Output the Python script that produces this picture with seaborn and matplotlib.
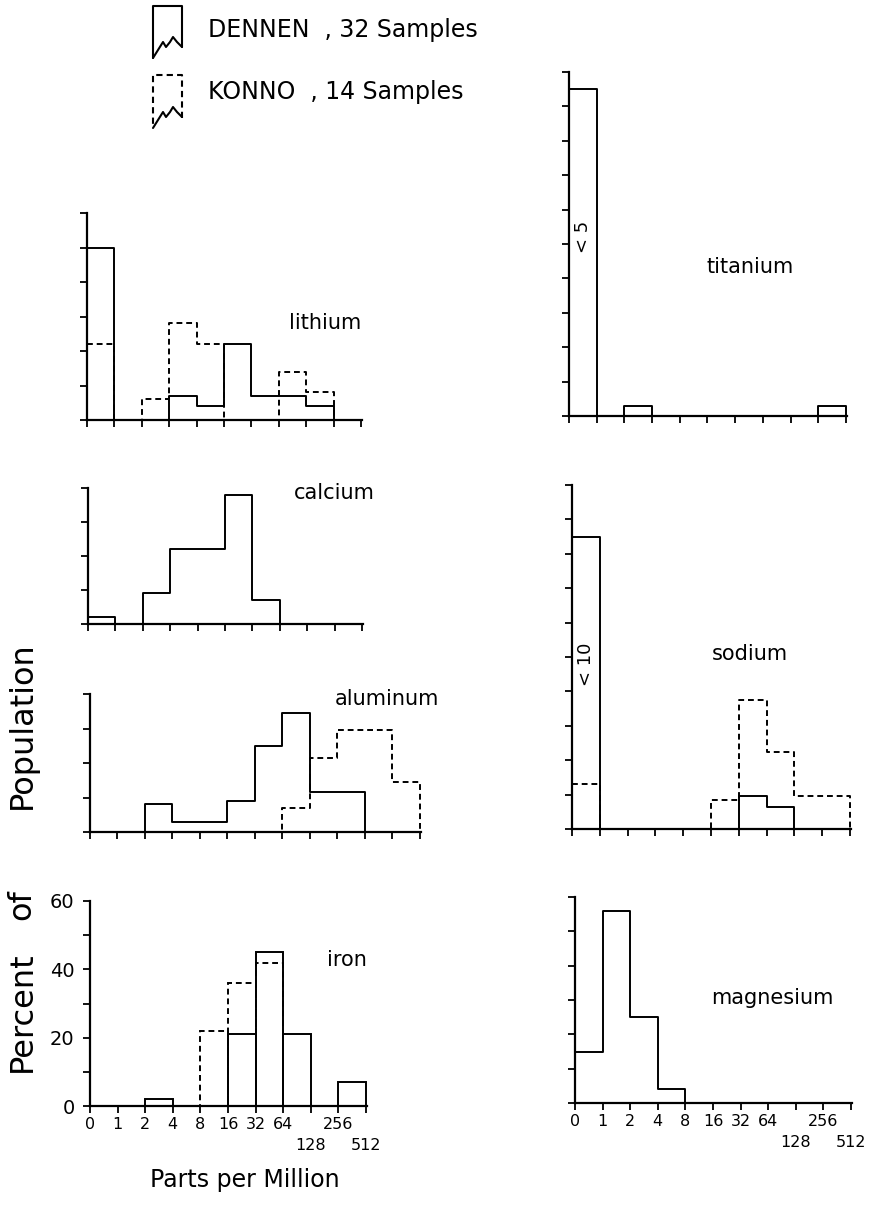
#!/usr/bin/env python3
"""
Trace element histograms, Dennen vs Konno samples (percent of population per ppm class).
"""

import numpy as np
import pandas as pd
import matplotlib
matplotlib.use('Agg')
import matplotlib.pyplot as plt
import seaborn as sns

W, H = 878, 1205  # output size in pixels (dpi 100)

# x classes, parts per million (bin edges); 128 and 512 sit on a lower row
BIN_LABELS = ['0', '1', '2', '4', '8', '16', '32', '64', '', '256', '']
LOW_ROW_POS = [8, 10]
LOW_ROW_LABELS = ['128', '512']

# percent of population per class
lithium_dennen = [50, 0, 0, 7, 4, 22, 7, 7, 4, 0]
lithium_konno = [22, 0, 6, 28, 22, 0, 0, 14, 8, 0]
calcium_dennen = [2, 0, 9, 22, 22, 38, 7, 0, 0, 0]
aluminum_dennen = [0, 0, 8, 3, 3, 9, 25, 34.5, 11.5, 11.5, 0, 0]
aluminum_konno = [0, 0, 0, 0, 0, 0, 0, 7, 21.5, 29.5, 29.5, 14.5]
iron_dennen = [0, 0, 2, 0, 0, 21, 45, 21, 0, 7]
iron_konno = [0, 0, 0, 0, 22, 36, 42, 0, 0, 0]
titanium_dennen = [95, 0, 3, 0, 0, 0, 0, 0, 0, 3]
sodium_dennen = [85, 0, 0, 0, 0, 0, 9.5, 6.5, 0, 0]
sodium_konno = [13, 0, 0, 0, 0, 8.5, 37.5, 22.5, 9.5, 9.5]
magnesium_dennen = [15, 56, 25, 4, 0, 0, 0, 0, 0, 0]

IRON_YTICKLABELS = ['0', '', '20', '', '40', '', '60']

LW = 1.4
DASH = (0, (3, 2))


def panel_axes(fig, x0, x1, yt, yb):
    """Axes placed by pixel box: x0..x1 across, yt (top of y range) .. yb (baseline)."""
    return fig.add_axes([x0 / W, 1 - yb / H, (x1 - x0) / W, (yb - yt) / H])


def draw_hist(ax, values, dashed=False, element='step'):
    # an empty class after the last one makes the step outline close at the right edge
    n = len(values)
    df = pd.DataFrame({'bin': np.arange(n + 1) + 0.5, 'pct': list(values) + [0]})
    sns.histplot(data=df, x='bin', weights='pct', bins=list(range(n + 2)),
                 element=element, fill=False, color='black', linewidth=LW,
                 linestyle=DASH if dashed else '-', ax=ax)


def style_panel(ax, nbins, ymax):
    ax.set_xlim(0, nbins + 0.04)
    ax.set_ylim(0, ymax)
    ax.set_xticks(np.arange(nbins + 1))
    ax.set_yticks(np.arange(0, ymax + 1, 10))
    ax.set_xticklabels([])
    ax.set_yticklabels([])
    ax.set_xlabel('')
    ax.set_ylabel('')
    ax.tick_params(direction='out', length=5, width=1.3, colors='black')
    sns.despine(ax=ax)
    for side in ('left', 'bottom'):
        ax.spines[side].set_linewidth(1.6)
        ax.spines[side].set_color('black')
    ax.set_facecolor('none')


def main():
    sns.set_style('ticks')
    plt.rcParams['font.family'] = ['DejaVu Sans']
    plt.rcParams['text.color'] = 'black'

    fig = plt.figure(figsize=(W / 100, H / 100), dpi=100)

    # panels: name, dennen, konno, ymax, pixel box, label position (data), element
    panels = [
        ('lithium', lithium_dennen, lithium_konno, 60, (87, 362, 213, 420), (8.7, 28), 'step'),
        ('calcium', calcium_dennen, None, 40, (88, 363, 488, 624), (9.0, 38.5), 'step'),
        ('aluminum', aluminum_dennen, aluminum_konno, 40, (90, 421, 694, 832), (10.8, 38.5), 'step'),
        ('iron', iron_dennen, iron_konno, 60, (90, 367, 901, 1106), (9.3, 42.8), 'bars'),
        ('titanium', titanium_dennen, None, 100, (569, 847, 72, 416), (6.55, 43.3), 'step'),
        ('sodium', sodium_dennen, sodium_konno, 100, (572, 851, 485, 829), (6.4, 50.9), 'step'),
        ('magnesium', magnesium_dennen, None, 60, (575, 852, 897, 1103), (7.15, 30.6), 'step'),
    ]

    axes = {}
    for name, dennen, konno, ymax, box, lab, element in panels:
        ax = panel_axes(fig, *box)
        draw_hist(ax, dennen, dashed=False, element=element)
        if konno is not None:
            draw_hist(ax, konno, dashed=True, element=element)
        style_panel(ax, len(dennen), ymax)
        ax.text(lab[0], lab[1], name, ha='center', va='center', fontsize=15, color='black')
        axes[name] = ax

    # labelled axes: upper row on the major ticks, 128 / 512 on a second row
    for name in ('iron', 'magnesium'):
        ax = axes[name]
        ax.xaxis.remove_overlapping_locs = False
        ax.set_xticklabels(BIN_LABELS, fontsize=11.5)
        ax.tick_params(axis='x', pad=3)
        ax.set_xticks(LOW_ROW_POS, minor=True)
        ax.set_xticklabels(LOW_ROW_LABELS, minor=True, fontsize=11.5)
        ax.tick_params(axis='x', which='minor', length=0, pad=23, colors='black')
    axes['iron'].set_yticklabels(IRON_YTICKLABELS, fontsize=14)
    axes['iron'].tick_params(axis='y', pad=6)

    # "below detection" notes in the first class
    axes['titanium'].text(0.5, 52, '< 5', rotation=90, ha='center', va='center', fontsize=13)
    axes['sodium'].text(0.5, 48, '< 10', rotation=90, ha='center', va='center', fontsize=13)

    # overlay in pixel coordinates for legend and axis titles
    ov = fig.add_axes([0, 0, 1, 1])
    ov.set_xlim(0, W)
    ov.set_ylim(H, 0)
    ov.axis('off')

    # legend icons: open boxes with a torn bottom edge
    tear = ([153, 158, 163, 166, 170, 173, 177, 182], [58, 50, 42, 47, 42, 37, 42, 47])
    ov.plot([182, 182, 153, 153], [47, 6, 6, 58], color='black', lw=1.5)
    ov.plot(*tear, color='black', lw=1.5)
    ov.plot([182, 182, 153, 153], [118, 75, 75, 128], color='black', lw=1.5, linestyle=DASH)
    ov.plot(tear[0], [v + 70 for v in tear[1]], color='black', lw=1.5)
    ov.text(208, 30, 'DENNEN  , 32 Samples', ha='left', va='center', fontsize=17)
    ov.text(208, 92, 'KONNO  , 14 Samples', ha='left', va='center', fontsize=17)

    # widely lettered y title, one word at a time
    for word, yc in (('Percent', 1012), ('of', 905), ('Population', 725)):
        ov.text(22, yc, word, rotation=90, ha='center', va='center', fontsize=23)
    ov.text(245, 1180, 'Parts per Million', ha='center', va='center', fontsize=17)

    fig.savefig('out.png', dpi=100, facecolor='white')
    plt.close(fig)


if __name__ == "__main__":
    main()
